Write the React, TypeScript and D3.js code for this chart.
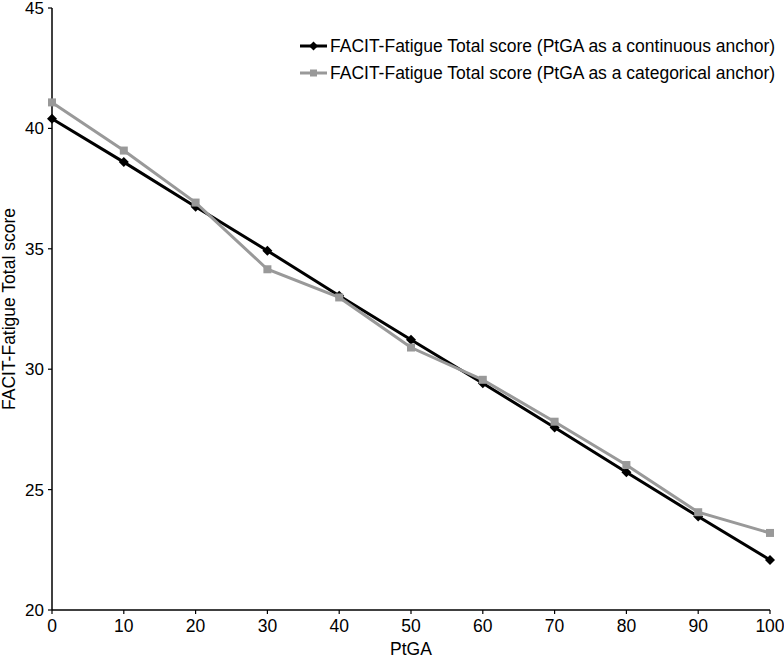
import React from "react";
import * as d3 from "d3";

const xValues = [0, 10, 20, 30, 40, 50, 60, 70, 80, 90, 100];
const continuousSeries = [40.4, 38.6, 36.75, 34.92, 33.05, 31.22, 29.42, 27.58, 25.72, 23.88, 22.08];
const categoricalSeries = [41.08, 39.08, 36.92, 34.15, 32.98, 30.9, 29.56, 27.82, 26.02, 24.06, 23.2];
const xTicks = [0, 10, 20, 30, 40, 50, 60, 70, 80, 90, 100];
const yTicks = [20, 25, 30, 35, 40, 45];
const seriesNames = [
  "FACIT-Fatigue Total score (PtGA as a continuous anchor)",
  "FACIT-Fatigue Total score (PtGA as a categorical anchor)",
];
const seriesColors = ["#000000", "#999999"];

export default function App() {
  const W = 784, H = 658;
  const left = 52, right = 770, top = 8, bottom = 610;
  const x = d3.scaleLinear().domain([0, 100]).range([left, right]);
  const y = d3.scaleLinear().domain([20, 45]).range([bottom, top]);
  const line = d3.line<number>().x((_, i) => x(xValues[i])).y((d) => y(d));
  const font = "Liberation Sans, Arial, Helvetica, sans-serif";
  const series = [continuousSeries, categoricalSeries];

  const diamond = (cx: number, cy: number, r: number) =>
    `M${cx},${cy - r}L${cx + r},${cy}L${cx},${cy + r}L${cx - r},${cy}Z`;

  return (
    <svg width={W} height={H} style={{ position: "absolute", left: 0, top: 0, background: "#fff" }} fontFamily={font}>
      <line x1={left} x2={left} y1={top} y2={bottom} stroke="#000" strokeWidth={1.5} />
      <line x1={left} x2={right} y1={bottom} y2={bottom} stroke="#000" strokeWidth={1.5} />
      {yTicks.map((t) => (
        <g key={"y" + t}>
          <line x1={left - 4} x2={left} y1={y(t)} y2={y(t)} stroke="#000" strokeWidth={1.2} />
          <text x={left - 8} y={y(t)} dy="0.35em" textAnchor="end" fontSize={17} fill="#000">{t}</text>
        </g>
      ))}
      {xTicks.map((t) => (
        <g key={"x" + t}>
          <line x1={x(t)} x2={x(t)} y1={bottom} y2={bottom + 4} stroke="#000" strokeWidth={1.2} />
          <text x={x(t)} y={bottom + 22} textAnchor="middle" fontSize={17.5} fill="#000">{t}</text>
        </g>
      ))}
      <text x={(left + right) / 2} y={655} textAnchor="middle" fontSize={17.5} fill="#000">PtGA</text>
      <text transform={`translate(15,${(top + bottom) / 2}) rotate(-90)`} textAnchor="middle" fontSize={17.5} fill="#000">
        FACIT-Fatigue Total score
      </text>

      {[0, 1].map((si) => (
        <g key={"s" + si}>
          <path d={line(series[si]) || ""} fill="none" stroke={seriesColors[si]} strokeWidth={3} />
          {series[si].map((v, i) =>
            si === 0 ? (
              <path key={i} d={diamond(x(xValues[i]), y(v), 5)} fill={seriesColors[si]} />
            ) : (
              <rect key={i} x={x(xValues[i]) - 4} y={y(v) - 4} width={8} height={8} fill={seriesColors[si]} />
            )
          )}
        </g>
      ))}

      {seriesNames.map((name, i) => {
        const ly = 46 + i * 27;
        return (
          <g key={"l" + i}>
            <line x1={300} x2={327} y1={ly} y2={ly} stroke={seriesColors[i]} strokeWidth={3} />
            {i === 0 ? (
              <path d={diamond(313.5, ly, 4.5)} fill={seriesColors[i]} />
            ) : (
              <rect x={310} y={ly - 3.5} width={7} height={7} fill={seriesColors[i]} />
            )}
            <text x={330} y={ly} dy="0.35em" fontSize={17.5} fill="#000">{name}</text>
          </g>
        );
      })}
    </svg>
  );
}
